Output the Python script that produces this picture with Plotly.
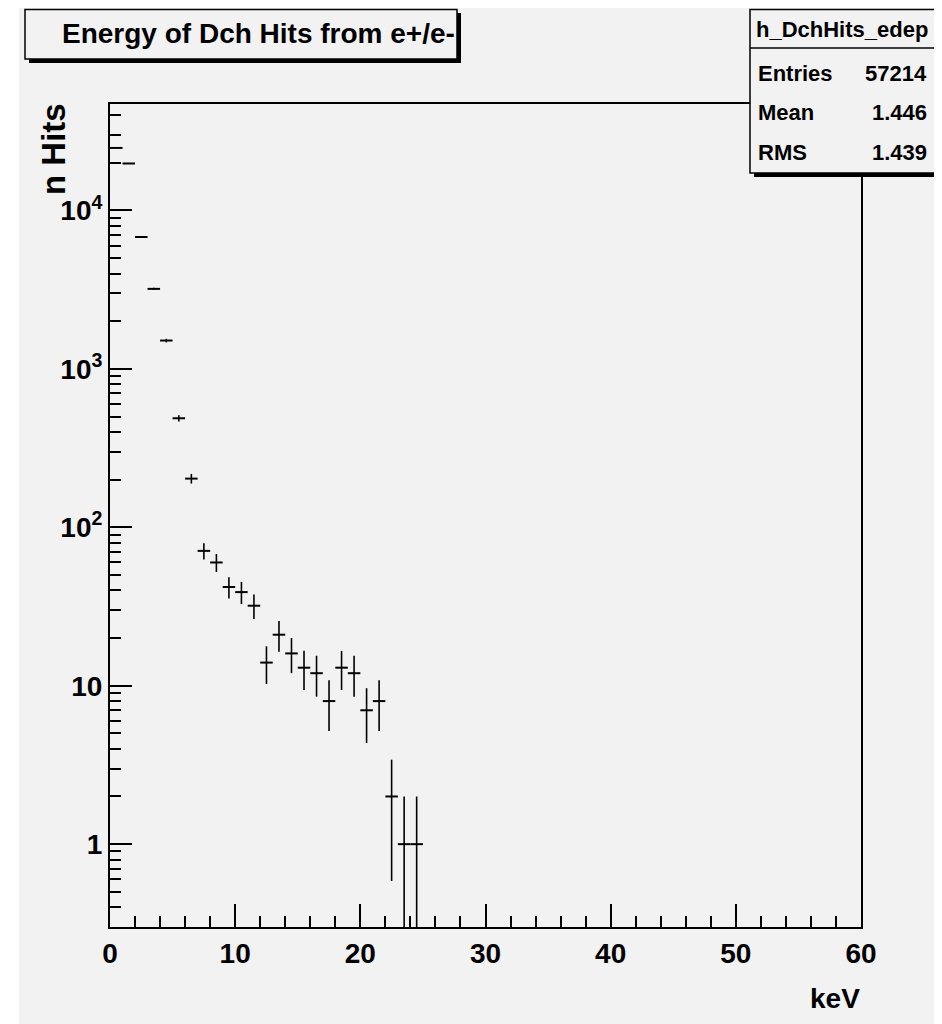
import numpy as np
import plotly.graph_objects as go

# ---- data ----
bin_low = list(range(0, 25))
counts = [24815, 19800, 6800, 3200, 1510, 488, 203, 71, 60, 42, 39, 32, 14, 21,
          16, 13, 12, 8, 13, 12, 7, 8, 2, 1, 1]
bin_width = 1.0

title_text = "Energy of Dch Hits from e+/e-"
hist_name = "h_DchHits_edep"
stat_labels = ["Entries", "Mean", "RMS"]
stat_values = ["57214", "1.446", "1.439"]
x_title = "keV"
y_title = "n Hits"
y_major_vals = [1, 10, 100, 1000, 10000]
y_major_text = ["1", "10", "10<sup>2</sup>", "10<sup>3</sup>", "10<sup>4</sup>"]

# ---- geometry (screen px of the reference; page body has an 8px margin) ----
OFF = 8
W, H = 942 - OFF, 1024 - OFF
L, R, T, B = 110, 861, 104, 927          # plot frame in screen px
BG = "#f2f2f2"
FONT = "Liberation Sans, Arial, Helvetica, sans-serif"

def px(x):
    return (x - L) / (R - L)

def py(y):
    return (B - y) / (B - T)

centers = [b + bin_width / 2 for b in bin_low]
cnt = np.array(counts, dtype=float)
err = np.sqrt(cnt)
err_minus = np.minimum(err, cnt * 0.999)

fig = go.Figure()
fig.add_trace(go.Scatter(
    x=centers, y=counts, mode="markers",
    marker=dict(size=1, color="black", opacity=0),
    error_x=dict(type="constant", value=bin_width / 2, width=0, thickness=2, color="black"),
    error_y=dict(type="data", array=err.tolist(), arrayminus=err_minus.tolist(),
                 width=0, thickness=1.6, color="black"),
    showlegend=False, cliponaxis=True, hoverinfo="skip",
))

minor_y = []
for d in [0.1, 1, 10, 100, 1000, 10000]:
    for k in range(2, 10):
        v = k * d
        if 0.3 <= v <= 47000:
            minor_y.append(v)

fig.update_layout(
    width=W, height=H,
    margin=dict(l=L - OFF, r=(942 - R), t=T - OFF, b=(1024 - B), pad=0),
    paper_bgcolor="white", plot_bgcolor=BG,
    font=dict(family=FONT, size=26, color="black"),
    xaxis=dict(range=[0, 60], tickvals=[0, 10, 20, 30, 40, 50, 60],
               ticks="inside", ticklen=23, tickwidth=1.5, tickcolor="black",
               showline=True, linewidth=2, linecolor="black", mirror=True,
               showgrid=False, zeroline=False,
               tickfont=dict(family=FONT, size=28, weight="bold"),
               minor=dict(tickvals=[v for v in range(2, 60, 2) if v % 10], ticks="inside",
                          ticklen=11, tickwidth=1.5, tickcolor="black", showgrid=False)),
    yaxis=dict(type="log", range=[np.log10(0.3), np.log10(47000)],
               tickvals=y_major_vals, ticktext=y_major_text,
               ticks="inside", ticklen=22, tickwidth=1.5, tickcolor="black",
               showline=True, linewidth=2, linecolor="black", mirror=True,
               showgrid=False, zeroline=False,
               tickfont=dict(family=FONT, size=28, weight="bold"),
               minor=dict(tickvals=minor_y, ticks="inside", ticklen=11,
                          tickwidth=1.5, tickcolor="black", showgrid=False)),
)

shapes = []
# grey canvas background
shapes.append(dict(type="rect", xref="paper", yref="paper", layer="below",
                   x0=px(19), x1=px(960), y0=py(1040), y1=py(5),
                   fillcolor=BG, line=dict(width=0)))
# title box shadow + box
shapes.append(dict(type="rect", xref="paper", yref="paper", layer="above",
                   x0=px(29), x1=px(461), y0=py(63), y1=py(13),
                   fillcolor="black", line=dict(width=0)))
shapes.append(dict(type="rect", xref="paper", yref="paper", layer="above",
                   x0=px(25), x1=px(457), y0=py(59), y1=py(9.5),
                   fillcolor=BG, line=dict(width=1.5, color="black")))
# stats box shadow + box
shapes.append(dict(type="rect", xref="paper", yref="paper", layer="above",
                   x0=px(754), x1=px(939), y0=py(177), y1=py(13),
                   fillcolor="black", line=dict(width=0)))
shapes.append(dict(type="rect", xref="paper", yref="paper", layer="above",
                   x0=px(750), x1=px(935), y0=py(173), y1=py(9.5),
                   fillcolor=BG, line=dict(width=1.5, color="black")))
shapes.append(dict(type="line", xref="paper", yref="paper", layer="above",
                   x0=px(750), x1=px(935), y0=py(48), y1=py(48),
                   line=dict(width=1.5, color="black")))
fig.update_layout(shapes=shapes)

ann = []
ann.append(dict(text=title_text, x=px(258), y=py(34), xref="paper", yref="paper",
                showarrow=False, xanchor="center", yanchor="middle",
                font=dict(family=FONT, size=28, weight="bold")))
ann.append(dict(text=hist_name, x=px(842), y=py(30), xref="paper", yref="paper",
                showarrow=False, xanchor="center", yanchor="middle",
                font=dict(family=FONT, size=22, weight="bold")))
for lab, val, yy in zip(stat_labels, stat_values, [73, 113, 152]):
    ann.append(dict(text=lab, x=px(756), y=py(yy), xref="paper", yref="paper",
                    showarrow=False, xanchor="left", yanchor="middle",
                    font=dict(family=FONT, size=22, weight="bold")))
    ann.append(dict(text=val, x=px(929), y=py(yy), xref="paper", yref="paper",
                    showarrow=False, xanchor="right", yanchor="middle",
                    font=dict(family=FONT, size=22, weight="bold")))
ann.append(dict(text=x_title, x=px(862), y=py(998), xref="paper", yref="paper",
                showarrow=False, xanchor="right", yanchor="middle",
                font=dict(family=FONT, size=28, weight="bold")))
ann.append(dict(text=y_title, x=px(54), y=py(101), xref="paper", yref="paper",
                showarrow=False, xanchor="center", yanchor="top", textangle=-90,
                font=dict(family=FONT, size=33, weight="bold")))
fig.update_layout(annotations=ann)

fig.write_html("out.html")
